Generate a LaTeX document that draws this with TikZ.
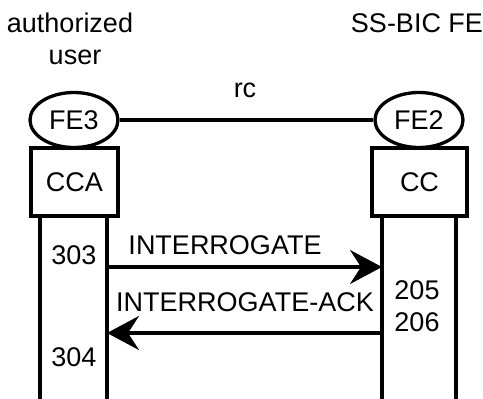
\documentclass[tikz,border=0pt]{standalone}
\usepackage{fontspec}
\setmainfont{Liberation Sans}
\usetikzlibrary{shapes}
\usetikzlibrary{arrows.meta}

\begin{document}
\begin{tikzpicture}[x=1pt,y=-1pt,line width=3.3pt,
  fe/.style={draw,ellipse,minimum width=88pt,minimum height=55pt,inner sep=0pt},
  fbox/.style={draw,rectangle,minimum height=68pt,inner sep=0pt},
  lbl/.style={inner sep=0pt},
  msg/.style={-{Stealth[length=32pt,width=34pt,inset=11pt]}}]
\useasboundingbox (0,0) rectangle (483,399);
\tikzset{every node/.append style={font=\fontsize{27}{32}\selectfont}}
\node[lbl] (au) at (70,23){authorized};
\node[lbl] (us) at (75,57){user};
\node[lbl] (ss) at (417,23){SS-BIC FE};
\node[lbl] (rc) at (245,90){rc};
\node[fe] (fe3) at (74,120){FE3};
\node[fe] (fe2) at (419,120){FE2};
\node[fbox,minimum width=87pt] (cca) at (74.5,182){CCA};
\node[fbox,minimum width=95pt] (cc) at (419.5,182){CC};
\draw (fe3) -- (fe2);
% lifelines
\coordinate (a1) at (40,216);  \coordinate (a2) at (40,399);
\coordinate (b1) at (107,216); \coordinate (b2) at (107,399);
\coordinate (c1) at (382,216); \coordinate (c2) at (382,399);
\coordinate (d1) at (456,216); \coordinate (d2) at (456,399);
\draw (a1) -- (a2);
\draw (b1) -- (b2);
\draw (c1) -- (c2);
\draw (d1) -- (d2);
% messages
\coordinate (m1) at (107,267); \coordinate (m2) at (382,267);
\coordinate (n1) at (382,333); \coordinate (n2) at (107,333);
\draw[msg] (m1) -- (m2);
\draw[msg] (n1) -- (n2);
\node[lbl] (q1) at (225,245){INTERROGATE};
\node[lbl] (q2) at (245,302){INTERROGATE-ACK};
\node[lbl] (s303) at (74,255){303};
\node[lbl] (s304) at (74,357){304};
\node[lbl] (s205) at (417,290){205};
\node[lbl] (s206) at (417,322){206};
\end{tikzpicture}
\end{document}
